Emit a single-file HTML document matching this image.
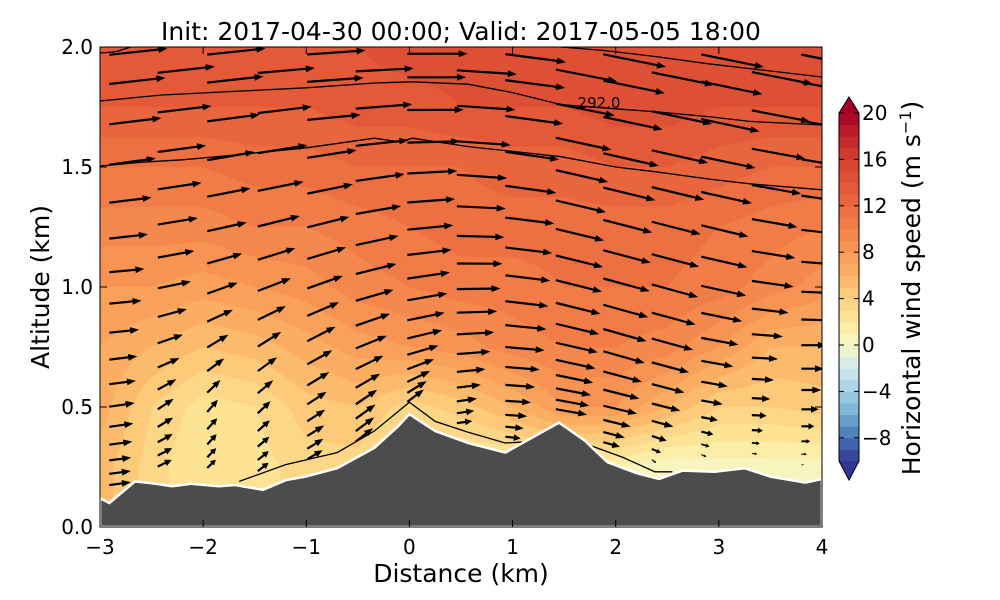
<!DOCTYPE html>
<html><head><meta charset="utf-8">
<style>
html,body{margin:0;padding:0;background:#fff;}
body{width:1000px;height:600px;position:relative;overflow:hidden;font-family:"DejaVu Sans","Liberation Sans",sans-serif;}
svg{position:absolute;left:0;top:0;font-family:"DejaVu Sans","Liberation Sans",sans-serif;}
#field{position:absolute;left:100px;top:47px;}
</style></head>
<body>
<canvas id="field" width="722" height="480"></canvas>
<svg id="chart" width="1000" height="600"></svg>
<script>
// ---- data ----
const altRows = [0, 0.25, 0.5, 0.75, 1.0, 1.25, 1.5, 1.75, 2.0];
const distCols = [-3,-2.5,-2,-1.5,-1,-0.5,0,0.5,1,1.5,2,2.5,3,3.5,4];
const speedGrid = [
 [5.5,3.5,2,2.5,3.5,3.5,2,1.5,1.5,1.5,1,0,0.5,0.5,0.5],
 [5.5,3.5,2,2.5,3.5,3.5,2,1.5,1.5,1.5,1,0,0.5,0.5,0.5],
 [6.5,4,2.5,3,4.5,5,3.5,4.5,6,8,8,6,4,4,4.5],
 [7,6,5,5.5,6.5,7.5,8,8.5,9.5,10,10,9.5,8,6,6],
 [8,8,7.5,8,8.5,9.5,10,10.5,10.5,11,11,11,10.5,9.5,8.5],
 [9.5,9.5,9.5,10,10,10.5,11,11.5,11.5,11.5,11.5,11.5,11,10.5,10],
 [11,11,11,11.5,11.5,12,12,12,12.5,12.5,13,13,12.5,12,12],
 [13,13,13,13,13,13.5,13.5,14,14,14,14.5,14.5,14,14,14],
 [14,14,14,14,14,14,14.5,14.5,14.5,15,15,15,15,15,15]
];
const wGrid = [
 [0.5,1.5,2,2,2,3,2.5,-0.3,-0.5,-0.5,-0.6,-0.6,-0.3,0,0],
 [0.5,1.5,2,2,2,3,2.5,-0.3,-0.5,-0.5,-0.6,-0.6,-0.3,0,0],
 [0.5,2.5,3,3,3,3.5,3,0.5,-0.5,-1.5,-2,-1.5,-0.5,0,0],
 [0.5,2,3,3.5,3.5,3,2,0.5,-1,-2.5,-3,-2.5,-1,0,0],
 [0.5,1.5,2.5,3,3,2.5,1.5,0,-1.5,-3,-3,-3,-2,-1,0],
 [1,1.5,2,2.5,2.5,2,1,-0.5,-1.5,-3,-3,-3,-2.5,-1.5,-1],
 [1.5,1.5,2,2,2,1.5,0.5,-1,-2,-3,-3,-3,-2.5,-2,-2],
 [1.5,1.5,1.5,1.5,1,1,0,-1,-2,-3,-3,-3,-3,-2.5,-2.5],
 [1.5,1.5,1.5,1,1,0.5,0,-1,-2,-3,-3,-3,-3,-3,-3]
];
const terrX = [-3.0,-2.91,-2.66,-2.46,-2.30,-2.12,-1.85,-1.69,-1.42,-1.20,-1.01,-0.70,-0.34,-0.11,0.0,0.25,0.57,0.75,0.93,1.20,1.45,1.70,1.92,2.20,2.42,2.65,2.96,3.25,3.50,3.84,4.0];
const terrH = [0.12,0.10,0.19,0.18,0.17,0.18,0.17,0.175,0.155,0.195,0.21,0.245,0.33,0.42,0.47,0.40,0.35,0.33,0.31,0.375,0.435,0.36,0.27,0.225,0.20,0.235,0.23,0.245,0.21,0.185,0.20];
const contourA_x = [-3,-2.4,-1.7,-1.0,-0.34,0.03,0.57,1.0,1.47,1.92,2.39,2.9,3.3,4.0];
const contourA_z = [1.775,1.80,1.815,1.83,1.85,1.855,1.845,1.81,1.76,1.745,1.73,1.71,1.69,1.675];
const contourB_x = [-3,-2.6,-2.2,-1.69,-1.0,-0.34,-0.1,0.03,0.57,1.0,1.47,2.0,2.39,2.9,3.3,4.0];
const contourB_z = [1.504,1.52,1.53,1.55,1.58,1.62,1.605,1.62,1.585,1.565,1.543,1.50,1.48,1.45,1.43,1.405];
const contourC_x = [1.47,1.9,2.39,2.9,3.3,4.0];
const contourC_z = [2.0,1.985,1.96,1.93,1.91,1.875];
const contourD_x = [-3,-2.85,-2.7];
const contourD_z = [1.975,1.98,2.0];
const contourE_x = [-1.65,-1.2,-0.70,-0.34,0.0,0.25,0.57,0.93,1.13];
const contourE_z = [0.19,0.26,0.31,0.40,0.52,0.44,0.395,0.35,0.355];
const contourF_x = [1.75,2.07,2.38,2.55];
const contourF_z = [0.34,0.29,0.23,0.23];
const xTicks = [-3,-2,-1,0,1,2,3,4];
const xTickLabels = ["\u22123","\u22122","\u22121","0","1","2","3","4"];
const yTicks = [0,0.5,1.0,1.5,2.0];
const yTickLabels = ["0.0","0.5","1.0","1.5","2.0"];
const cbTicks = [20,16,12,8,4,0,-4,-8];
const cbTickLabels = ["20","16","12","8","4","0","\u22124","\u22128"];
const arrowCols = [-2.91,-2.44,-1.96,-1.47,-0.99,-0.52,-0.02,0.46,0.93,1.42,1.88,2.35,2.83,3.32,3.80];

// ---- scales ----
const X = v => 100 + (v + 3) * 103.14;
const Y = v => 527 - v * 240;
const CB = v => 345 - v * 11.6;
const NS = "http://www.w3.org/2000/svg";
const svg = document.getElementById('chart');
function mk(tag, attrs, parent) { const e = document.createElementNS(NS, tag); for (const k in attrs) e.setAttribute(k, attrs[k]); (parent || svg).appendChild(e); return e; }

const stops = [[-10,'#313695'],[-8,'#4575b4'],[-6,'#74add1'],[-4,'#a3cfe3'],[-2,'#d2e9f0'],[0,'#f6f7c8'],[2,'#fee99c'],[4,'#fdd181'],[6,'#fcb465'],[8,'#f89a56'],[10,'#f3824a'],[12,'#eb6a3f'],[14,'#e15537'],[16,'#d5402e'],[18,'#c0242a'],[20,'#a50026']];
function hex(h){return [parseInt(h.substr(1,2),16),parseInt(h.substr(3,2),16),parseInt(h.substr(5,2),16)];}
function cmap(v){ v=Math.max(-10,Math.min(20,v)); for(let i=0;i<stops.length-1;i++){ const a=stops[i],b=stops[i+1]; if(v<=b[0]){const t=(v-a[0])/(b[0]-a[0]); const A=hex(a[1]),B=hex(b[1]); return [0,1,2].map(k=>Math.round(A[k]+(B[k]-A[k])*t));}} return hex('#a50026'); }
function interp(grid, x, z){
  let fx=(x-distCols[0])/0.5, fz=z/0.25;
  fx=Math.max(0,Math.min(distCols.length-1.0001,fx)); fz=Math.max(0,Math.min(altRows.length-1.0001,fz));
  const i=Math.floor(fx), j=Math.floor(fz), tx=fx-i, tz=fz-j;
  return (grid[j][i]*(1-tx)+grid[j][i+1]*tx)*(1-tz)+(grid[j+1][i]*(1-tx)+grid[j+1][i+1]*tx)*tz;
}
function terr(x){ for(let i=0;i<terrX.length-1;i++){ if(x<=terrX[i+1]){const t=(x-terrX[i])/(terrX[i+1]-terrX[i]); return terrH[i]+(terrH[i+1]-terrH[i])*t;} } return terrH[terrH.length-1]; }

// ---- field ----
const ctx = document.getElementById('field').getContext('2d');
const img = ctx.createImageData(722,480);
for(let py=0;py<480;py++){ const z=(527-(47+py+0.5))/240;
  for(let px=0;px<722;px++){ const x=(px+0.5)/103.14-3;
    const v=Math.floor(interp(speedGrid,x,z)); const c=cmap(v+0.5); const o=(py*722+px)*4;
    img.data[o]=c[0];img.data[o+1]=c[1];img.data[o+2]=c[2];img.data[o+3]=255; } }
ctx.putImageData(img,0,0);

// ---- clip ----
const defs = mk('defs',{});
const cp = mk('clipPath',{id:'plotclip'},defs); mk('rect',{x:100,y:47,width:722,height:480},cp);

// ---- arrows ----
const arrowsG = mk('g',{'clip-path':'url(#plotclip)'});


const sLevels=[0.04,0.065,0.095,0.13,0.17,0.215,0.265,0.32,0.38,0.445,0.515,0.59,0.67,0.755,0.845,0.935,1.0];
const arrowScale=4.2;
arrowCols.forEach((x,ci)=>{
  const h=terr(x);
  sLevels.forEach((s,li)=>{
    const z=h+s*(1.99-h)*(1+0.012*((ci%2)?1:-1));
    if(z>1.995) return;
    const u=interp(speedGrid,x,z), w=interp(wGrid,x,z);
    const dx=u*arrowScale, dy=-w*arrowScale; const L=Math.hypot(dx,dy);
    const x0=X(x), y0=Y(z);
    if(L<1.5){ const d=mk('circle',{cx:x0,cy:y0,r:0.8,fill:'#000'},arrowsG);   return; }
    const ux=dx/L, uy=dy/L, nx=-uy, ny=ux;
    const hl=Math.min(9,L*0.45), hw=Math.min(3.4,L*0.25), sw=Math.min(1.1,L*0.1);
    const bx=x0+dx-ux*hl, by=y0+dy-uy*hl;
    const pts=[[x0+nx*sw,y0+ny*sw],[bx+nx*sw,by+ny*sw],[bx+nx*hw,by+ny*hw],[x0+dx,y0+dy],[bx-nx*hw,by-ny*hw],[bx-nx*sw,by-ny*sw],[x0-nx*sw,y0-ny*sw]];
    const a=mk('polygon',{points:pts.map(p=>p[0].toFixed(1)+','+p[1].toFixed(1)).join(' '),fill:'#000'},arrowsG);
    
    
  });
});

// ---- contours ----
const contG = mk('g',{'clip-path':'url(#plotclip)',fill:'none',stroke:'#000','stroke-width':1.3});


[[contourA_x,contourA_z],[contourB_x,contourB_z],[contourC_x,contourC_z],[contourD_x,contourD_z],[contourE_x,contourE_z],[contourF_x,contourF_z]].forEach(c=>{
  const p=mk('polyline',{points:c[0].map((x,i)=>X(x).toFixed(1)+','+Y(c[1][i]).toFixed(1)).join(' ')},contG);
  
  
});
const lbl=mk('text',{x:X(1.63),y:Y(1.745),'font-size':15,fill:'#000'});
lbl.textContent='292.0';



// ---- terrain ----
let d='M'+X(-3)+','+Y(0);
terrX.forEach((x,i)=>{ d+=' L'+X(x).toFixed(1)+','+Y(terrH[i]).toFixed(1); });
d+=' L'+X(4)+','+Y(0)+' Z';
const terrain=mk('path',{d:d,fill:'#4c4c4c',stroke:'#fff','stroke-width':2.5,'clip-path':'url(#plotclip)'});



// ---- axes frame & ticks ----
const frame=mk('rect',{x:100,y:47,width:722,height:480,fill:'none',stroke:'#000','stroke-width':1});


xTicks.forEach((t,i)=>{
  mk('line',{x1:X(t),x2:X(t),y1:527,y2:520,stroke:'#000'});
  mk('line',{x1:X(t),x2:X(t),y1:47,y2:54,stroke:'#000'});
  const tx=mk('text',{x:X(t),y:554,'text-anchor':'middle','font-size':20});
  tx.textContent=xTickLabels[i];
  
  
});
yTicks.forEach((t,i)=>{
  mk('line',{x1:100,x2:107,y1:Y(t),y2:Y(t),stroke:'#000'});
  mk('line',{x1:822,x2:815,y1:Y(t),y2:Y(t),stroke:'#000'});
  const tx=mk('text',{x:93,y:Y(t)+7,'text-anchor':'end','font-size':20});
  tx.textContent=yTickLabels[i];
  
  
});
const title=mk('text',{x:461,y:40,'text-anchor':'middle','font-size':25});
title.textContent='Init: 2017-04-30 00:00; Valid: 2017-05-05 18:00';


const xl=mk('text',{x:461,y:582,'text-anchor':'middle','font-size':25});
xl.textContent='Distance (km)';


const yl=mk('text',{x:0,y:0,'text-anchor':'middle','font-size':25,transform:'translate(49,287) rotate(-90)'});
yl.textContent='Altitude (km)';



// ---- colorbar ----
const cbG=mk('g',{});


for(let v=-10;v<20;v++){
  const c=cmap(v+0.5);
  mk('rect',{x:839,y:CB(v+1),width:20,height:CB(v)-CB(v+1)+0.5,fill:'rgb('+c.join(',')+')'},cbG);
}
let c1=cmap(20);mk('polygon',{points:'839,'+CB(20)+' 859,'+CB(20)+' 849,97',fill:'rgb('+c1.join(',')+')'},cbG);
c1=cmap(-10);mk('polygon',{points:'839,'+CB(-10)+' 859,'+CB(-10)+' 849,480',fill:'rgb('+c1.join(',')+')'},cbG);
mk('polygon',{points:'849,97 859,'+CB(20)+' 859,'+CB(-10)+' 849,480 839,'+CB(-10)+' 839,'+CB(20),fill:'none',stroke:'#000','stroke-width':1},cbG);
cbTicks.forEach((t,i)=>{
  mk('line',{x1:859,x2:854,y1:CB(t),y2:CB(t),stroke:'#000'},cbG);
  mk('line',{x1:839,x2:844,y1:CB(t),y2:CB(t),stroke:'#000'},cbG);
  const tx=mk('text',{x:862,y:CB(t)+7,'font-size':20},cbG);
  tx.textContent=cbTickLabels[i];
  
  
});
const cbl=mk('text',{x:0,y:0,'text-anchor':'middle','font-size':25,transform:'translate(920,288) rotate(-90)'});
cbl.innerHTML='Horizontal wind speed (m s<tspan dy="-9" font-size="16">\u22121</tspan><tspan dy="9">)</tspan>';


</script>
</body></html>
